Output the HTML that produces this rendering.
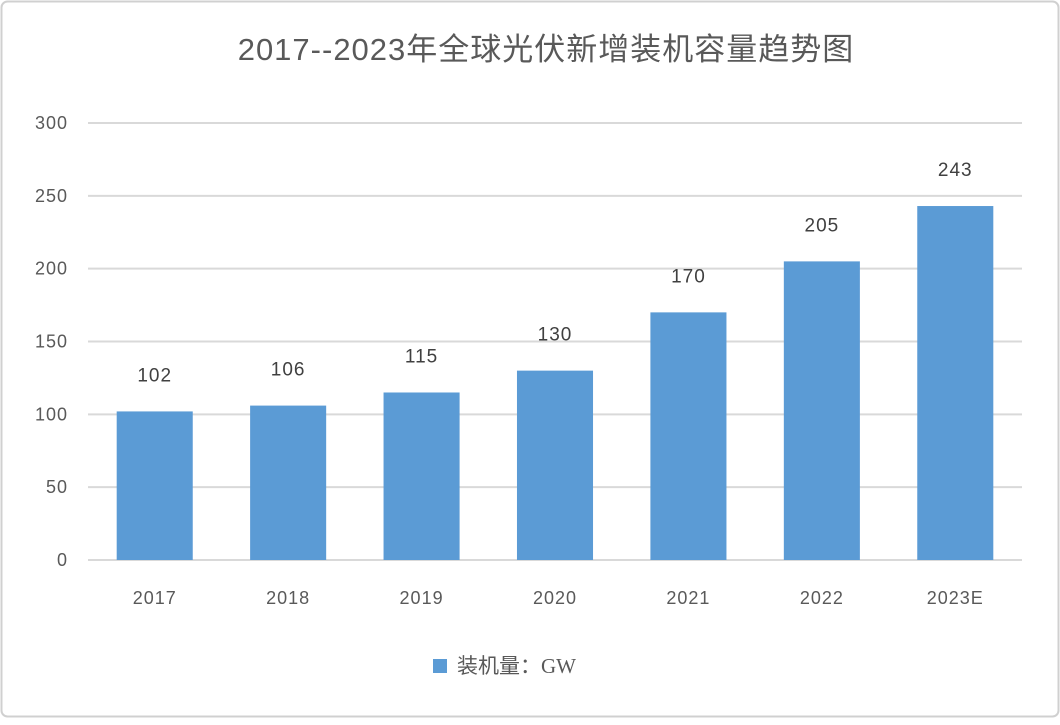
<!DOCTYPE html>
<html><head><meta charset="utf-8"><style>
html,body{margin:0;padding:0;background:#fff;}
body{width:1060px;height:720px;overflow:hidden;font-family:"Liberation Sans","Noto Sans CJK SC",sans-serif;}
</style></head><body>
<svg id="chart" width="1060" height="720" xmlns="http://www.w3.org/2000/svg">
<rect x="1.5" y="1.5" width="1057" height="715" rx="6" fill="#fff" stroke="#d0d0d0" stroke-width="2"/>
<text x="546" y="60" text-anchor="middle" font-size="31" fill="#595959" font-family="Liberation Sans, Noto Sans CJK SC, sans-serif" letter-spacing="1">2017--2023年全球光伏新增装机容量趋势图</text>
<g id="grid"></g><g id="bars"></g>
<g>
<rect x="433" y="659" width="14" height="14" fill="#5b9bd5"/>
<text x="457" y="673" font-size="21" fill="#595959" font-family="Liberation Serif, Noto Sans CJK SC, serif">装机量：GW</text>
</g>
</svg>
<script>
const categories=["2017","2018","2019","2020","2021","2022","2023E"];
const values=[102,106,115,130,170,205,243];
const yTicks=[0,50,100,150,200,250,300];
const NS="http://www.w3.org/2000/svg";
const x0=88,x1=1022,y0=560,y1=123,yMax=300;
const y=v=>y0-(v/yMax)*(y0-y1);
const band=(x1-x0)/categories.length;
const xc=i=>x0+band*(i+0.5);
const g=document.getElementById("grid"),b=document.getElementById("bars");
function mk(tag,attrs,parent){const e=document.createElementNS(NS,tag);for(const k in attrs)e.setAttribute(k,attrs[k]);parent.appendChild(e);return e;}
yTicks.forEach(t=>{
 const l=mk("line",{x1:x0,x2:x1,y1:y(t),y2:y(t),stroke:"#d9d9d9","stroke-width":2},g);
 
 
 const tx=mk("text",{x:68,y:y(t)+6,"text-anchor":"end","font-size":18,fill:"#595959","letter-spacing":"1"},g);
 
 
 tx.textContent=t;
});
const bw=band*0.57;
values.forEach((v,i)=>{
 const r=mk("rect",{x:xc(i)-bw/2,y:y(v),width:bw,height:y0-y(v),fill:"#5b9bd5"},b);
 
 
 const lb=mk("text",{x:xc(i),y:y(v)-30,"text-anchor":"middle","font-size":19,fill:"#404040","letter-spacing":"1"},b);
 
 
 lb.textContent=v;
 const cl=mk("text",{x:xc(i),y:604,"text-anchor":"middle","font-size":18,fill:"#595959","letter-spacing":"1"},b);
 
 
 cl.textContent=categories[i];
});
</script>
</body></html>
